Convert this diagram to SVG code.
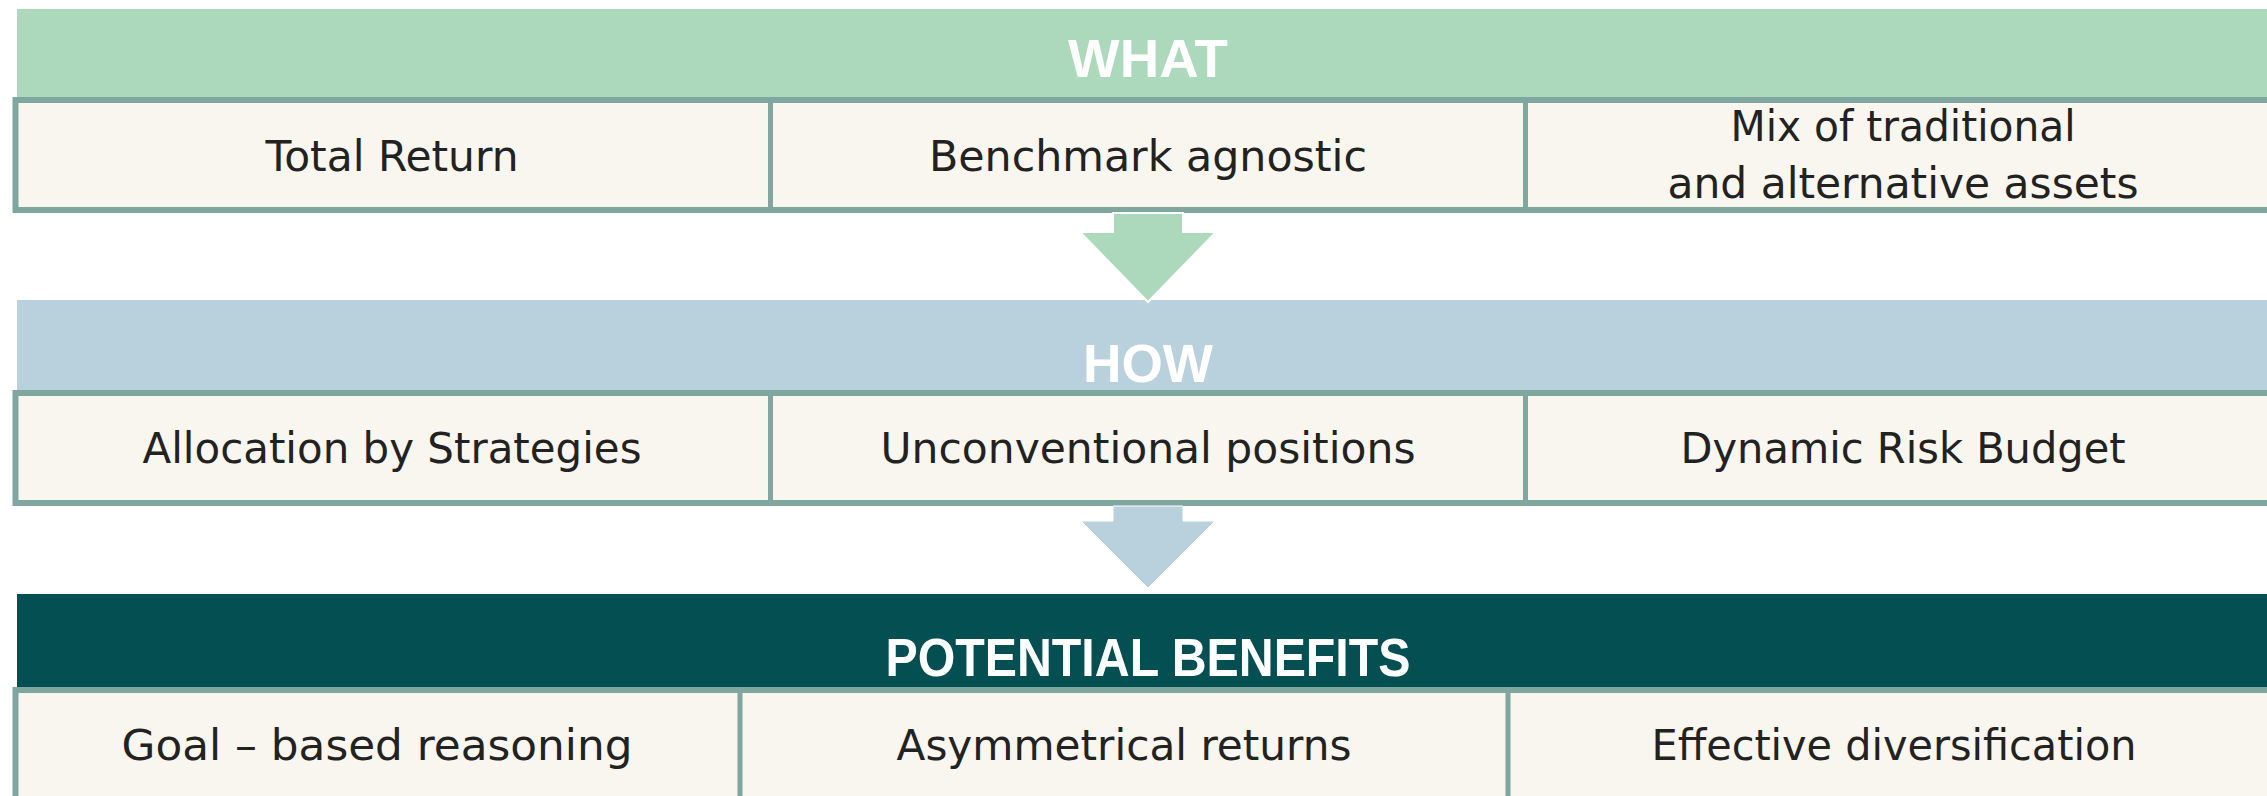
<svg xmlns="http://www.w3.org/2000/svg" width="2267" height="796" viewBox="0 0 2267 796">
<defs>
<style>
.hdr{font-family:"Liberation Sans",Arial,sans-serif;font-weight:bold;font-size:54px;fill:#ffffff;text-anchor:middle}
.cell{fill:#f8f6ee;stroke:#7fa69f;stroke-width:6}
.div{stroke:#7fa69f;stroke-width:5}
.txt{font-family:"DejaVu Sans","Liberation Sans",sans-serif;font-size:42.5px;fill:#222222;text-anchor:middle}
</style>
</defs>
<rect width="2267" height="796" fill="#ffffff"/>

<g id="what">
<rect x="17" y="9" width="2264" height="90" fill="#acd8bc"/>
<text class="hdr" x="1148" y="77" textLength="160" lengthAdjust="spacingAndGlyphs">WHAT</text>
</g>
<g id="what-row">
<rect class="cell" x="15.5" y="100" width="2270" height="110"/>
<line class="div" x1="770.5" y1="100" x2="770.5" y2="210"/>
<line class="div" x1="1525.5" y1="100" x2="1525.5" y2="210"/>
</g>
<g id="total-return"><text class="txt" x="392" y="171" textLength="253" lengthAdjust="spacingAndGlyphs">Total Return</text></g>
<g id="benchmark-agnostic"><text class="txt" x="1148" y="171" textLength="438" lengthAdjust="spacingAndGlyphs">Benchmark agnostic</text></g>
<g id="mix-assets">
<text class="txt" x="1903" y="141" textLength="345" lengthAdjust="spacingAndGlyphs">Mix of traditional</text>
<text class="txt" x="1903" y="198" textLength="471" lengthAdjust="spacingAndGlyphs">and alternative assets</text>
</g>

<g id="how">
<rect x="17" y="300" width="2264" height="92" fill="#b9d1dc"/>
<text class="hdr" x="1148" y="382" textLength="130" lengthAdjust="spacingAndGlyphs">HOW</text>
</g>
<g id="how-row">
<rect class="cell" x="15.5" y="393" width="2270" height="110"/>
<line class="div" x1="770.5" y1="393" x2="770.5" y2="503"/>
<line class="div" x1="1525.5" y1="393" x2="1525.5" y2="503"/>
</g>
<g id="allocation"><text class="txt" x="392" y="463" textLength="499" lengthAdjust="spacingAndGlyphs">Allocation by Strategies</text></g>
<g id="unconventional"><text class="txt" x="1148" y="463" textLength="535" lengthAdjust="spacingAndGlyphs">Unconventional positions</text></g>
<g id="dynamic-risk"><text class="txt" x="1903" y="463" textLength="445" lengthAdjust="spacingAndGlyphs">Dynamic Risk Budget</text></g>

<g id="benefits">
<rect x="17" y="594" width="2264" height="95" fill="#034f51"/>
<text class="hdr" x="1148" y="676" textLength="525" lengthAdjust="spacingAndGlyphs">POTENTIAL BENEFITS</text>
</g>
<g id="benefits-row">
<rect class="cell" x="15.5" y="690" width="2270" height="111"/>
<line class="div" x1="740" y1="690" x2="740" y2="800"/>
<line class="div" x1="1508" y1="690" x2="1508" y2="800"/>
</g>
<g id="goal-based"><text class="txt" x="377" y="760" textLength="511" lengthAdjust="spacingAndGlyphs">Goal – based reasoning</text></g>
<g id="asymmetrical"><text class="txt" x="1124" y="760" textLength="455" lengthAdjust="spacingAndGlyphs">Asymmetrical returns</text></g>
<g id="diversification"><text class="txt" x="1894" y="760" textLength="485" lengthAdjust="spacingAndGlyphs">Effective diversification</text></g>

<g id="connectors">
<polygon points="1113,213 1183,213 1183,232 1216,232 1148,302 1080,232 1113,232" fill="#acd8bc" stroke="#ffffff" stroke-width="2" stroke-linejoin="miter"/>
<polygon points="1113,506 1183,506 1183,521 1215,521 1148,588 1081,521 1113,521" fill="#b9d1dc" stroke="#ffffff" stroke-width="1"/>
</g>
</svg>
